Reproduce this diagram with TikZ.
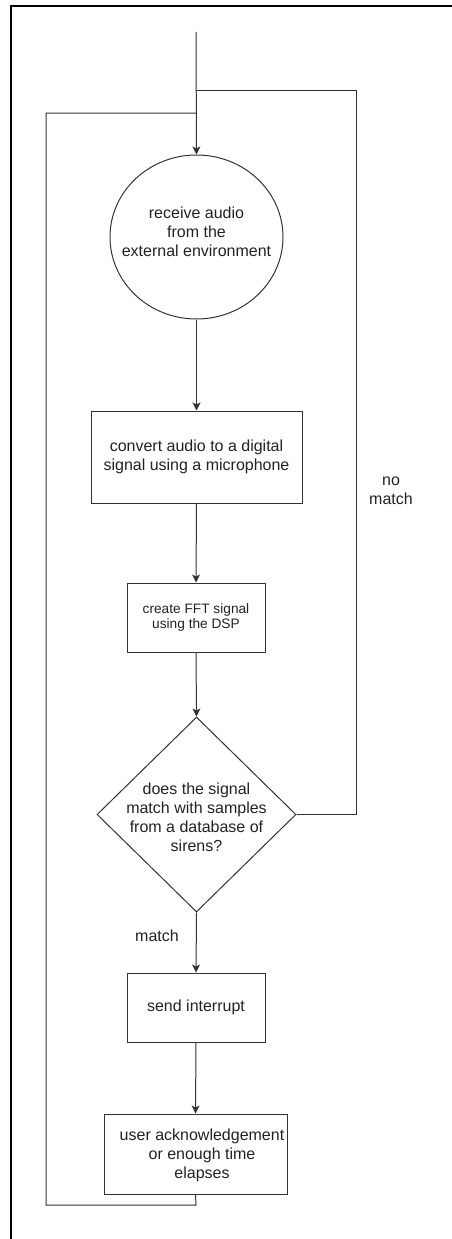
\documentclass[tikz,border=0pt]{standalone}
\usepackage{fontspec}
\setmainfont{Liberation Sans}
\usetikzlibrary{shapes.geometric,arrows.meta}
\definecolor{ink}{HTML}{333333}
\definecolor{txt}{HTML}{222222}
\tikzset{
  flow/.style={draw=ink,line width=1pt},
  arr/.style={flow,-{Stealth[length=8pt,width=8pt,inset=2pt]}},
  outline/.style={draw=ink,line width=1pt,inner sep=0pt},
  shapebox/.style={outline,rectangle,align=center,text=txt,
    font=\fontsize{16}{19}\selectfont},
  smallbox/.style={shapebox,font=\fontsize{13.7}{15.5}\selectfont},
  lbl/.style={inner sep=0pt,align=center,text=txt,font=\fontsize{16}{19}\selectfont}
}
\begin{document}
\begin{tikzpicture}[x=1pt,y=-1pt]
\useasboundingbox (0,0) rectangle (452,1239);
% outer frame
\draw[line width=2pt,black] (11,1239) -- (11,6) -- (452,6);

% process steps
\node[outline,ellipse,minimum width=173pt,minimum height=164pt] (recv) at (196.5,237) {};
\node[lbl] (recvtxt) at (196.5,232) {receive audio\\from the\\external environment};
\node[shapebox,minimum width=211pt,minimum height=92pt] (conv) at (196.5,457)
  {convert audio to a digital\\signal using a microphone};
\node[smallbox,minimum width=138pt,minimum height=69pt] (fft) at (196,617.5)
  {create FFT signal\\using the DSP};
\node[outline,diamond,minimum width=199pt,minimum height=195pt] (dec) at (196.5,814.5) {};
\node[lbl] (dectxt) at (196.5,817) {does the signal\\match with samples\\from a database of\\sirens?};
\node[shapebox,minimum width=138pt,minimum height=69pt] (intr) at (196,1007.5) {send interrupt};
\node[shapebox,minimum width=183pt,minimum height=80pt] (ack) at (195.5,1154) {};
\node[lbl] (acktxt) at (202,1155) {user acknowledgement\\or enough time\\elapses};

% labels
\node[lbl] (nomatch) at (391,491) {no\\match};
\node[lbl] (match) at (157,936) {match};

% routing points
\coordinate (start) at (196,32);
\coordinate (jr) at (196,90);
\coordinate (jl) at (196,113);
\coordinate (rr) at (356,814.5);
\coordinate (rt) at (356,90);
\coordinate (lb) at (196,1205);
\coordinate (lbl2) at (46,1205);
\coordinate (ltop) at (46,113);

% main flow
\draw[arr] (start) -- (recv.north);
\draw[arr] (recv.south) -- (conv.north);
\draw[arr] (conv.south) -- (fft.north);
\draw[arr] (fft.south) -- (dec.north);
\draw[arr] (dec.south) -- (intr.north);
\draw[arr] (intr.south) -- (ack.north);

% loops back to the start
\draw[flow] (dec.east) -- (rr) -- (rt) -- (jr);
\draw[flow] (ack.south) -- (lb) -- (lbl2) -- (ltop) -- (jl);
\end{tikzpicture}
\end{document}
